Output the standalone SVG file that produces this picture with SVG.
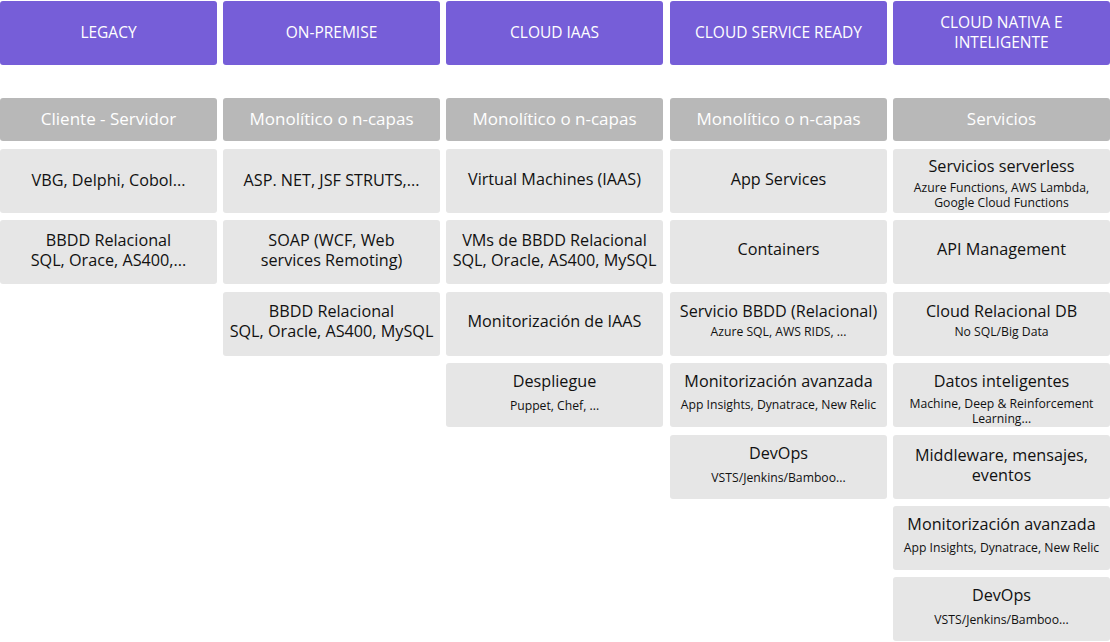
<svg xmlns="http://www.w3.org/2000/svg" width="1110" height="642" viewBox="0 0 1110 642">
<style>
.h{fill:#765ed8}
.g{fill:#b8b8b8}
.c{fill:#e6e6e6}
text{font-family:"Open Sans","Noto Sans","Liberation Sans",sans-serif;text-anchor:middle;dominant-baseline:central}
.ht{fill:#fff;font-size:15.5px}
.gt{fill:#fff;font-size:17px}
.t{fill:#111;font-size:16.2px}
.s{fill:#111;font-size:12.2px}
</style>
<rect width="1110" height="642" fill="#fff"/>
<g id="connectors"/>
<g id="col-legacy">
<g id="h1"><rect class="h" x="0" y="1" width="217" height="64" rx="3"/><text class="ht" x="108.5" y="32">LEGACY</text></g>
<g id="g1"><rect class="g" x="0" y="98" width="217" height="43" rx="3"/><text class="gt" x="108.5" y="118">Cliente - Servidor</text></g>
<g id="c1a"><rect class="c" x="0" y="149" width="217" height="64" rx="3"/><text class="t" x="108.5" y="180">VBG, Delphi, Cobol...</text></g>
<g id="c1b"><rect class="c" x="0" y="220" width="217" height="64" rx="3"/><text class="t" x="108.5" y="240">BBDD Relacional</text><text class="t" x="108.5" y="260">SQL, Orace, AS400,...</text></g>
</g>
<g id="col-onpremise">
<g id="h2"><rect class="h" x="223" y="1" width="217" height="64" rx="3"/><text class="ht" x="331.5" y="32">ON-PREMISE</text></g>
<g id="g2"><rect class="g" x="223" y="98" width="217" height="43" rx="3"/><text class="gt" x="331.5" y="118">Monolítico o n-capas</text></g>
<g id="c2a"><rect class="c" x="223" y="149" width="217" height="64" rx="3"/><text class="t" x="331.5" y="180">ASP. NET, JSF STRUTS,...</text></g>
<g id="c2b"><rect class="c" x="223" y="220" width="217" height="64" rx="3"/><text class="t" x="331.5" y="240">SOAP (WCF, Web</text><text class="t" x="331.5" y="260">services Remoting)</text></g>
<g id="c2c"><rect class="c" x="223" y="292" width="217" height="64" rx="3"/><text class="t" x="331.5" y="311">BBDD Relacional</text><text class="t" x="331.5" y="331">SQL, Oracle, AS400, MySQL</text></g>
</g>
<g id="col-iaas">
<g id="h3"><rect class="h" x="446" y="1" width="217" height="64" rx="3"/><text class="ht" x="554.5" y="32">CLOUD IAAS</text></g>
<g id="g3"><rect class="g" x="446" y="98" width="217" height="43" rx="3"/><text class="gt" x="554.5" y="118">Monolítico o n-capas</text></g>
<g id="c3a"><rect class="c" x="446" y="149" width="217" height="64" rx="3"/><text class="t" x="554.5" y="179">Virtual Machines (IAAS)</text></g>
<g id="c3b"><rect class="c" x="446" y="220" width="217" height="64" rx="3"/><text class="t" x="554.5" y="240">VMs de BBDD Relacional</text><text class="t" x="554.5" y="260">SQL, Oracle, AS400, MySQL</text></g>
<g id="c3c"><rect class="c" x="446" y="292" width="217" height="64" rx="3"/><text class="t" x="554.5" y="321">Monitorización de IAAS</text></g>
<g id="c3d"><rect class="c" x="446" y="363" width="217" height="64" rx="3"/><text class="t" x="554.5" y="381">Despliegue</text><text class="s" x="554.5" y="405">Puppet, Chef, ...</text></g>
</g>
<g id="col-csr">
<g id="h4"><rect class="h" x="670" y="1" width="217" height="64" rx="3"/><text class="ht" x="778.5" y="32">CLOUD SERVICE READY</text></g>
<g id="g4"><rect class="g" x="670" y="98" width="217" height="43" rx="3"/><text class="gt" x="778.5" y="118">Monolítico o n-capas</text></g>
<g id="c4a"><rect class="c" x="670" y="149" width="217" height="64" rx="3"/><text class="t" x="778.5" y="179">App Services</text></g>
<g id="c4b"><rect class="c" x="670" y="220" width="217" height="64" rx="3"/><text class="t" x="778.5" y="249">Containers</text></g>
<g id="c4c"><rect class="c" x="670" y="292" width="217" height="64" rx="3"/><text class="t" x="778.5" y="311">Servicio BBDD (Relacional)</text><text class="s" x="778.5" y="331">Azure SQL, AWS RIDS, ...</text></g>
<g id="c4d"><rect class="c" x="670" y="363" width="217" height="64" rx="3"/><text class="t" x="778.5" y="381">Monitorización avanzada</text><text class="s" x="778.5" y="404">App Insights, Dynatrace, New Relic</text></g>
<g id="c4e"><rect class="c" x="670" y="435" width="217" height="64" rx="3"/><text class="t" x="778.5" y="453">DevOps</text><text class="s" x="778.5" y="477">VSTS/Jenkins/Bamboo...</text></g>
</g>
<g id="col-native">
<g id="h5"><rect class="h" x="893" y="1" width="217" height="64" rx="3"/><text class="ht" x="1001.5" y="22">CLOUD NATIVA E</text><text class="ht" x="1001.5" y="42">INTELIGENTE</text></g>
<g id="g5"><rect class="g" x="893" y="98" width="217" height="43" rx="3"/><text class="gt" x="1001.5" y="118">Servicios</text></g>
<g id="c5a"><rect class="c" x="893" y="149" width="217" height="64" rx="3"/><text class="t" x="1001.5" y="166">Servicios serverless</text><text class="s" x="1001.5" y="187">Azure Functions, AWS Lambda,</text><text class="s" x="1001.5" y="202">Google Cloud Functions</text></g>
<g id="c5b"><rect class="c" x="893" y="220" width="217" height="64" rx="3"/><text class="t" x="1001.5" y="249">API Management</text></g>
<g id="c5c"><rect class="c" x="893" y="292" width="217" height="64" rx="3"/><text class="t" x="1001.5" y="311">Cloud Relacional DB</text><text class="s" x="1001.5" y="331">No SQL/Big Data</text></g>
<g id="c5d"><rect class="c" x="893" y="363" width="217" height="64" rx="3"/><text class="t" x="1001.5" y="381">Datos inteligentes</text><text class="s" x="1001.5" y="403">Machine, Deep &amp; Reinforcement</text><text class="s" x="1001.5" y="418">Learning...</text></g>
<g id="c5e"><rect class="c" x="893" y="435" width="217" height="64" rx="3"/><text class="t" x="1001.5" y="455">Middleware, mensajes,</text><text class="t" x="1001.5" y="475">eventos</text></g>
<g id="c5f"><rect class="c" x="893" y="506" width="217" height="64" rx="3"/><text class="t" x="1001.5" y="524">Monitorización avanzada</text><text class="s" x="1001.5" y="547">App Insights, Dynatrace, New Relic</text></g>
<g id="c5g"><rect class="c" x="893" y="577" width="217" height="64" rx="3"/><text class="t" x="1001.5" y="595">DevOps</text><text class="s" x="1001.5" y="619">VSTS/Jenkins/Bamboo...</text></g>
</g>
</svg>
